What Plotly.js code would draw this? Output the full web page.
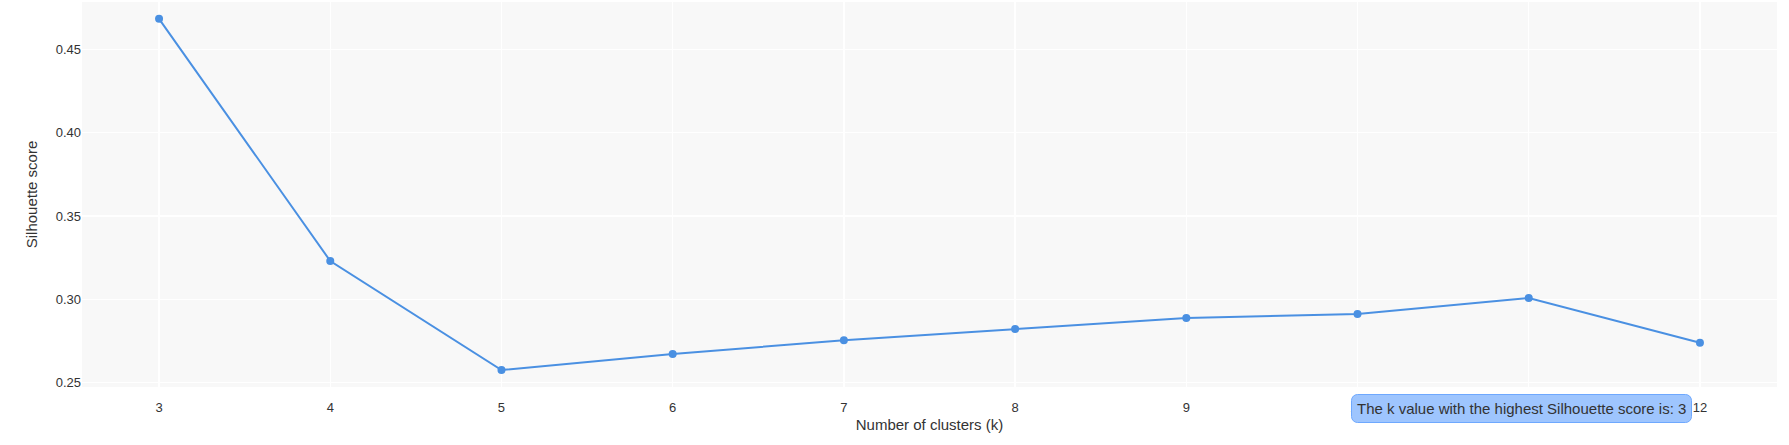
<!DOCTYPE html>
<html>
<head>
<meta charset="utf-8">
<script src="https://cdn.plot.ly/plotly-3.0.1.min.js"></script>
<style>html,body{margin:0;padding:0;background:#fff;}#chart{width:1789px;height:445px;}</style>
</head>
<body>
<div id="chart"></div>
<script>
const kValues = [3, 4, 5, 6, 7, 8, 9, 10, 11, 12];
const silhouetteScores = [0.4683, 0.3230, 0.2576, 0.2672, 0.2754, 0.2822, 0.2888, 0.2912, 0.3008, 0.2740];
const yTickValues = [0.25, 0.30, 0.35, 0.40, 0.45];
const xTitle = "Number of clusters (k)";
const yTitle = "Silhouette score";

const bestIdx = silhouetteScores.indexOf(Math.max(...silhouetteScores));
const bestK = kValues[bestIdx];

const trace = {
  x: kValues,
  y: silhouetteScores,
  type: "scatter",
  mode: "lines+markers",
  line: {color: "#4a90e2", width: 2},
  marker: {color: "#4a90e2", size: 8},
  hoverinfo: "x+y"
};

const layout = {
  width: 1789,
  height: 445,
  margin: {l: 82, r: 12, t: 2, b: 58},
  paper_bgcolor: "#ffffff",
  plot_bgcolor: "#f8f8f8",
  font: {family: "Liberation Sans, Arial, sans-serif", color: "#333333", size: 13},
  showlegend: false,
  xaxis: {
    range: [2.55, 12.45],
    tickvals: kValues,
    ticktext: kValues.map(String),
    showgrid: true,
    gridcolor: "#ffffff",
    gridwidth: 1.5,
    zeroline: false,
    showline: false,
    ticks: "",
    ticklabelstandoff: 11,
    tickfont: {size: 13, color: "#333333"},
    title: {text: xTitle, font: {size: 15, color: "#333333"}, standoff: 5}
  },
  yaxis: {
    range: [0.2474, 0.4784],
    tickvals: yTickValues,
    ticktext: yTickValues.map(v => v.toFixed(2)),
    showgrid: true,
    gridcolor: "#ffffff",
    gridwidth: 1.5,
    zeroline: false,
    showline: false,
    ticks: "",
    tickfont: {size: 13, color: "#333333"},
    title: {text: yTitle, font: {size: 15, color: "#333333"}, standoff: 14}
  },
  annotations: [{
    xref: "paper",
    yref: "paper",
    x: 0.849,
    y: -0.057,
    xanchor: "center",
    yanchor: "middle",
    showarrow: false,
    text: "The k value with the highest Silhouette score is: " + bestK,
    font: {size: 15, color: "#333333"},
    bgcolor: "#9ec5fe",
    bordercolor: "#6ea8fe",
    borderwidth: 1,
    borderpad: 5
  }]
};

Plotly.newPlot("chart", [trace], layout, {displayModeBar: false, staticPlot: true}).then(() => {
  document.querySelectorAll(".annotation rect.bg").forEach(r => { r.setAttribute("rx", 6); r.setAttribute("ry", 6); });
});
</script>
</body>
</html>
